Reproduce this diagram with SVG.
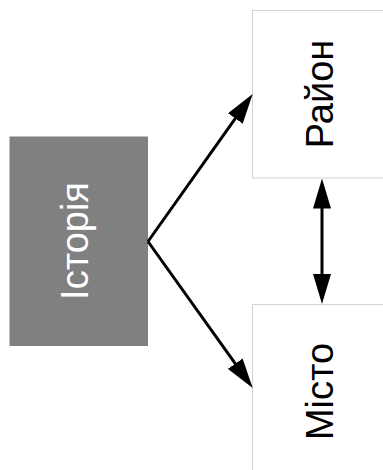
<svg xmlns="http://www.w3.org/2000/svg" width="383" height="470" viewBox="0 0 383 470">
<style>
.lbl{font-family:"Liberation Sans",Arial,sans-serif;font-size:38px;text-anchor:middle}
.box{fill:#ffffff;stroke:#d3d3d3;stroke-width:1}
.conn{stroke:#000;stroke-width:3;fill:none}
</style>
<defs>
<marker id="ah" markerUnits="userSpaceOnUse" markerWidth="30" markerHeight="18" refX="20" refY="9" orient="auto-start-reverse" viewBox="0 0 30 18">
<path d="M0,0 L30,9 L0,18 z" fill="#000"/>
</marker>
</defs>
<rect width="383" height="470" fill="#fff"/>
<g id="istoriia">
<rect x="9.5" y="136.5" width="138.5" height="209.5" fill="#808080"/>
<text class="lbl" fill="#fff" transform="translate(87.5,241) rotate(-90)">Історія</text>
</g>
<g id="raion">
<rect class="box" x="252.5" y="10.5" width="140" height="167.5"/>
<text class="lbl" fill="#000" transform="translate(332.5,94) rotate(-90)">Район</text>
</g>
<g id="misto">
<rect class="box" x="252.5" y="304.5" width="140" height="175"/>
<text class="lbl" fill="#000" transform="translate(332.5,391.5) rotate(-90)">Місто</text>
</g>
<g id="connectors">
<line class="conn" x1="148" y1="241.5" x2="246.9" y2="102.2" marker-end="url(#ah)"/>
<line class="conn" x1="148" y1="241.5" x2="246.9" y2="379.9" marker-end="url(#ah)"/>
<line class="conn" x1="322" y1="188.5" x2="322" y2="294" marker-start="url(#ah)" marker-end="url(#ah)"/>
</g>
</svg>
